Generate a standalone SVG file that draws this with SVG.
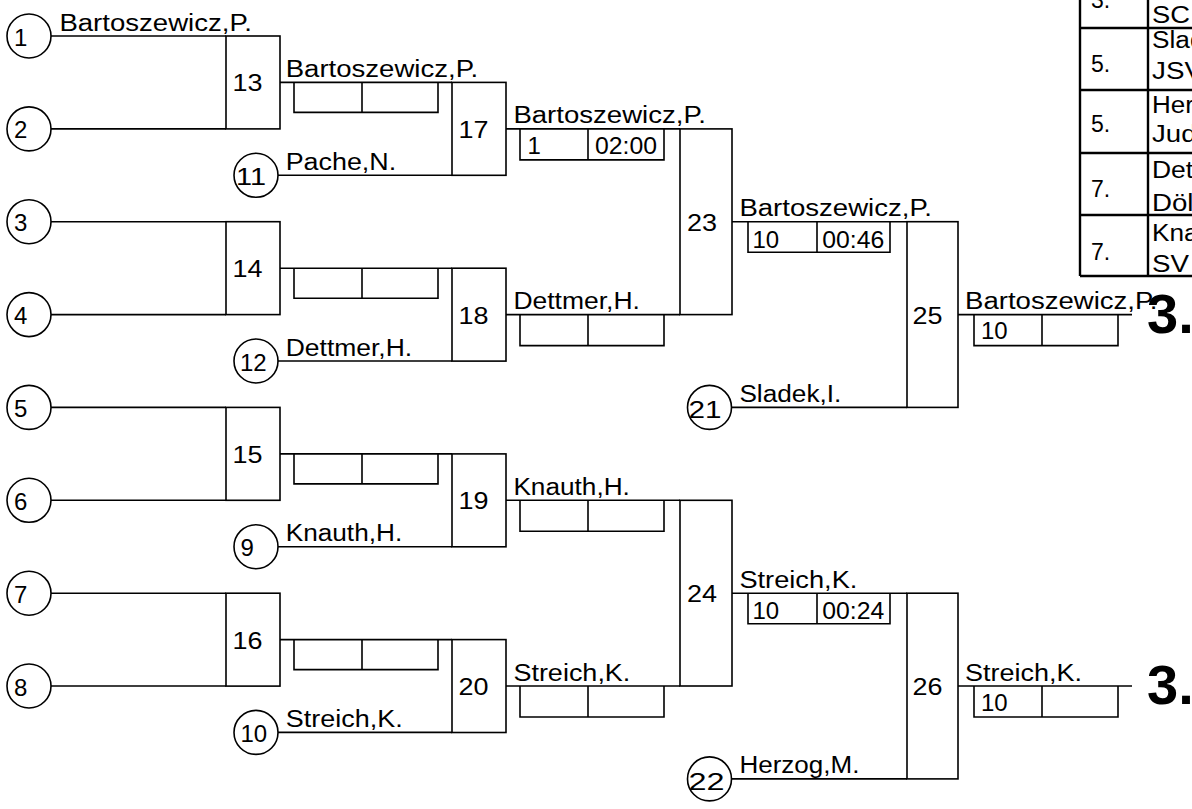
<svg xmlns="http://www.w3.org/2000/svg" width="1192" height="809" viewBox="0 0 1192 809">
<style>
.ln{stroke:#000;stroke-width:1.6;fill:none}
.bx{stroke:#000;stroke-width:1.6;fill:none}
.ci{stroke:#000;stroke-width:1.6;fill:#fff}
.tb{stroke:#000;stroke-width:2.4;fill:none}
text{font-family:"Liberation Sans",Arial,sans-serif;fill:#000}
.nm{font-size:23px}
.no{font-size:24px}
.ck{font-size:24px}
.sc{font-size:24px}
.tt{font-size:23px}
.big{font-size:56px;font-weight:bold}
</style>
<rect width="1192" height="809" fill="#fff"/>

<g id="connectors">
<path class="ln" d="M51 36H226M51 128.9H226M51 221.7H226M51 314.6H226M51 407.4H226M51 500.3H226M51 593.2H226M51 686H226"/>
<path class="ln" d="M280 82.4H452M280 268.2H452M280 453.9H452M280 639.6H452"/>
<path class="ln" d="M278 175.3H452M278 361H452M278 546.7H452M278 732.4H452"/>
<path class="ln" d="M506 128.9H680M506 314.6H680M506 500.3H680M506 686H680"/>
<path class="ln" d="M732 221.7H907M732 593.2H907M731.5 407.4H907M731.5 778.9H907"/>
<path class="ln" d="M958 314.6H1132M958 686H1132"/>
</g>

<g id="seed-1"><circle class="ci" cx="29" cy="36" r="22"/><text class="ck" x="14" y="45.5">1</text></g>
<g id="seed-2"><circle class="ci" cx="29" cy="128.9" r="22"/><text class="ck" x="14" y="138.4">2</text></g>
<g id="seed-3"><circle class="ci" cx="29" cy="221.7" r="22"/><text class="ck" x="14" y="231.2">3</text></g>
<g id="seed-4"><circle class="ci" cx="29" cy="314.6" r="22"/><text class="ck" x="14" y="324.1">4</text></g>
<g id="seed-5"><circle class="ci" cx="29" cy="407.4" r="22"/><text class="ck" x="14" y="416.9">5</text></g>
<g id="seed-6"><circle class="ci" cx="29" cy="500.3" r="22"/><text class="ck" x="14" y="509.8">6</text></g>
<g id="seed-7"><circle class="ci" cx="29" cy="593.2" r="22"/><text class="ck" x="14" y="602.7">7</text></g>
<g id="seed-8"><circle class="ci" cx="29" cy="686" r="22"/><text class="ck" x="14" y="695.5">8</text></g>
<g id="seed-11"><circle class="ci" cx="256" cy="175.3" r="22"/><text class="ck" x="236" y="185" textLength="30" lengthAdjust="spacingAndGlyphs">11</text></g>
<g id="seed-12"><circle class="ci" cx="256" cy="361" r="22"/><text class="ck" x="240" y="370.7">12</text></g>
<g id="seed-9"><circle class="ci" cx="256" cy="546.7" r="22"/><text class="ck" x="240.5" y="556.4">9</text></g>
<g id="seed-10"><circle class="ci" cx="256" cy="732.4" r="22"/><text class="ck" x="240.5" y="742.1">10</text></g>
<g id="seed-21"><circle class="ci" cx="709.5" cy="407.4" r="22"/><text class="ck" x="688.5" y="417.5" textLength="33" lengthAdjust="spacingAndGlyphs">21</text></g>
<g id="seed-22"><circle class="ci" cx="709.5" cy="778.9" r="22"/><text class="ck" x="688.5" y="790" textLength="36" lengthAdjust="spacingAndGlyphs">22</text></g>

<g id="match-13"><rect class="bx" x="226" y="36" width="54" height="92.9"/><text class="no" x="232.5" y="91.4" textLength="30" lengthAdjust="spacingAndGlyphs">13</text></g>
<g id="match-14"><rect class="bx" x="226" y="221.7" width="54" height="92.9"/><text class="no" x="232.5" y="277.2" textLength="30" lengthAdjust="spacingAndGlyphs">14</text></g>
<g id="match-15"><rect class="bx" x="226" y="407.4" width="54" height="92.9"/><text class="no" x="232.5" y="462.9" textLength="30" lengthAdjust="spacingAndGlyphs">15</text></g>
<g id="match-16"><rect class="bx" x="226" y="593.2" width="54" height="92.9"/><text class="no" x="232.5" y="648.6" textLength="30" lengthAdjust="spacingAndGlyphs">16</text></g>
<g id="match-17"><rect class="bx" x="452" y="82.4" width="54" height="92.9"/><text class="no" x="458.5" y="137.9" textLength="30" lengthAdjust="spacingAndGlyphs">17</text></g>
<g id="match-18"><rect class="bx" x="452" y="268.2" width="54" height="92.9"/><text class="no" x="458.5" y="323.6" textLength="30" lengthAdjust="spacingAndGlyphs">18</text></g>
<g id="match-19"><rect class="bx" x="452" y="453.9" width="54" height="92.9"/><text class="no" x="458.5" y="509.3" textLength="30" lengthAdjust="spacingAndGlyphs">19</text></g>
<g id="match-20"><rect class="bx" x="452" y="639.6" width="54" height="92.9"/><text class="no" x="458.5" y="695" textLength="30" lengthAdjust="spacingAndGlyphs">20</text></g>
<g id="match-23"><rect class="bx" x="680" y="128.9" width="52" height="185.7"/><text class="no" x="687" y="230.7" textLength="30" lengthAdjust="spacingAndGlyphs">23</text></g>
<g id="match-24"><rect class="bx" x="680" y="500.3" width="52" height="185.7"/><text class="no" x="687" y="602.2" textLength="30" lengthAdjust="spacingAndGlyphs">24</text></g>
<g id="match-25"><rect class="bx" x="907" y="221.7" width="51" height="185.7"/><text class="no" x="912.5" y="323.6" textLength="30" lengthAdjust="spacingAndGlyphs">25</text></g>
<g id="match-26"><rect class="bx" x="907" y="593.2" width="51" height="185.7"/><text class="no" x="912.5" y="695" textLength="30" lengthAdjust="spacingAndGlyphs">26</text></g>

<g id="score-r2">
<path class="bx" d="M294 82.4V112.4H438V82.4M362 82.4V112.4"/>
<path class="bx" d="M294 268.2V298.2H438V268.2M362 268.2V298.2"/>
<path class="bx" d="M294 453.9V483.9H438V453.9M362 453.9V483.9"/>
<path class="bx" d="M294 639.6V669.6H438V639.6M362 639.6V669.6"/>
</g>
<g id="score-r3">
<path class="bx" d="M520 128.9V159.9H664V128.9M588 128.9V159.9"/>
<path class="bx" d="M520 314.6V345.6H664V314.6M588 314.6V345.6"/>
<path class="bx" d="M520 500.3V531.3H664V500.3M588 500.3V531.3"/>
<path class="bx" d="M520 686V717H664V686M588 686V717"/>
<text class="sc" x="527.5" y="153.6">1</text><text class="sc" x="595" y="153.6" textLength="62" lengthAdjust="spacingAndGlyphs">02:00</text>
</g>
<g id="score-r4">
<path class="bx" d="M748 221.7V252.2H890V221.7M817 221.7V252.2"/>
<path class="bx" d="M748 593.2V623.7H890V593.2M817 593.2V623.7"/>
<text class="sc" x="752.5" y="247.5">10</text><text class="sc" x="822.3" y="247.5" textLength="62" lengthAdjust="spacingAndGlyphs">00:46</text>
<text class="sc" x="752.5" y="619">10</text><text class="sc" x="822.3" y="619" textLength="62" lengthAdjust="spacingAndGlyphs">00:24</text>
</g>
<g id="score-final">
<path class="bx" d="M974 314.6V345.6H1118V314.6M1042 314.6V345.6"/>
<path class="bx" d="M974 686V717H1118V686M1042 686V717"/>
<text class="sc" x="981" y="339">10</text>
<text class="sc" x="981" y="711">10</text>
</g>

<g id="names">
<text class="nm" x="59.4" y="30.5" textLength="192.5" lengthAdjust="spacingAndGlyphs">Bartoszewicz,P.</text>
<text class="nm" x="285.7" y="76.9" textLength="192.5" lengthAdjust="spacingAndGlyphs">Bartoszewicz,P.</text>
<text class="nm" x="285.7" y="169.8" textLength="110.5" lengthAdjust="spacingAndGlyphs">Pache,N.</text>
<text class="nm" x="285.7" y="355.5" textLength="126.5" lengthAdjust="spacingAndGlyphs">Dettmer,H.</text>
<text class="nm" x="285.7" y="541.2" textLength="116.5" lengthAdjust="spacingAndGlyphs">Knauth,H.</text>
<text class="nm" x="285.7" y="726.9" textLength="117" lengthAdjust="spacingAndGlyphs">Streich,K.</text>
<text class="nm" x="513.4" y="123.4" textLength="192.5" lengthAdjust="spacingAndGlyphs">Bartoszewicz,P.</text>
<text class="nm" x="513.4" y="309.1" textLength="126.5" lengthAdjust="spacingAndGlyphs">Dettmer,H.</text>
<text class="nm" x="513.4" y="494.8" textLength="116.5" lengthAdjust="spacingAndGlyphs">Knauth,H.</text>
<text class="nm" x="513.4" y="680.5" textLength="117" lengthAdjust="spacingAndGlyphs">Streich,K.</text>
<text class="nm" x="739.4" y="216.2" textLength="192.5" lengthAdjust="spacingAndGlyphs">Bartoszewicz,P.</text>
<text class="nm" x="739.4" y="401.9" textLength="102" lengthAdjust="spacingAndGlyphs">Sladek,I.</text>
<text class="nm" x="739.4" y="587.7" textLength="118" lengthAdjust="spacingAndGlyphs">Streich,K.</text>
<text class="nm" x="739.4" y="773.4" textLength="120" lengthAdjust="spacingAndGlyphs">Herzog,M.</text>
<text class="nm" x="965" y="309.1" textLength="192.5" lengthAdjust="spacingAndGlyphs">Bartoszewicz,P.</text>
<text class="nm" x="965" y="680.5" textLength="117" lengthAdjust="spacingAndGlyphs">Streich,K.</text>
</g>

<g id="place-3a"><text class="big" x="1147" y="333">3.</text></g>
<g id="place-3b"><text class="big" x="1147" y="704">3.</text></g>

<g id="results-table">
<path class="tb" d="M1080 -2V276M1148 -2V276M1080 28H1194M1080 90H1194M1080 153H1194M1080 215H1194M1080 276H1194"/>
<text class="tt" x="1091" y="8">3.</text>
<text class="tt" x="1152" y="23" textLength="38" lengthAdjust="spacingAndGlyphs">SC</text>
<text class="tt" x="1091" y="72">5.</text>
<text class="tt" x="1152" y="48" textLength="102" lengthAdjust="spacingAndGlyphs">Sladek,I.</text>
<text class="tt" x="1152" y="79" textLength="51" lengthAdjust="spacingAndGlyphs">JSV</text>
<text class="tt" x="1091" y="132">5.</text>
<text class="tt" x="1152" y="113" textLength="120" lengthAdjust="spacingAndGlyphs">Herzog,M.</text>
<text class="tt" x="1152" y="142" textLength="44.5" lengthAdjust="spacingAndGlyphs">Jud</text>
<text class="tt" x="1091" y="197">7.</text>
<text class="tt" x="1152" y="178" textLength="126.5" lengthAdjust="spacingAndGlyphs">Dettmer,H.</text>
<text class="tt" x="1152" y="211" textLength="41.5" lengthAdjust="spacingAndGlyphs">Döl</text>
<text class="tt" x="1091" y="260">7.</text>
<text class="tt" x="1152" y="241" textLength="116.5" lengthAdjust="spacingAndGlyphs">Knauth,H.</text>
<text class="tt" x="1152" y="272" textLength="37" lengthAdjust="spacingAndGlyphs">SV</text>
</g>
</svg>
